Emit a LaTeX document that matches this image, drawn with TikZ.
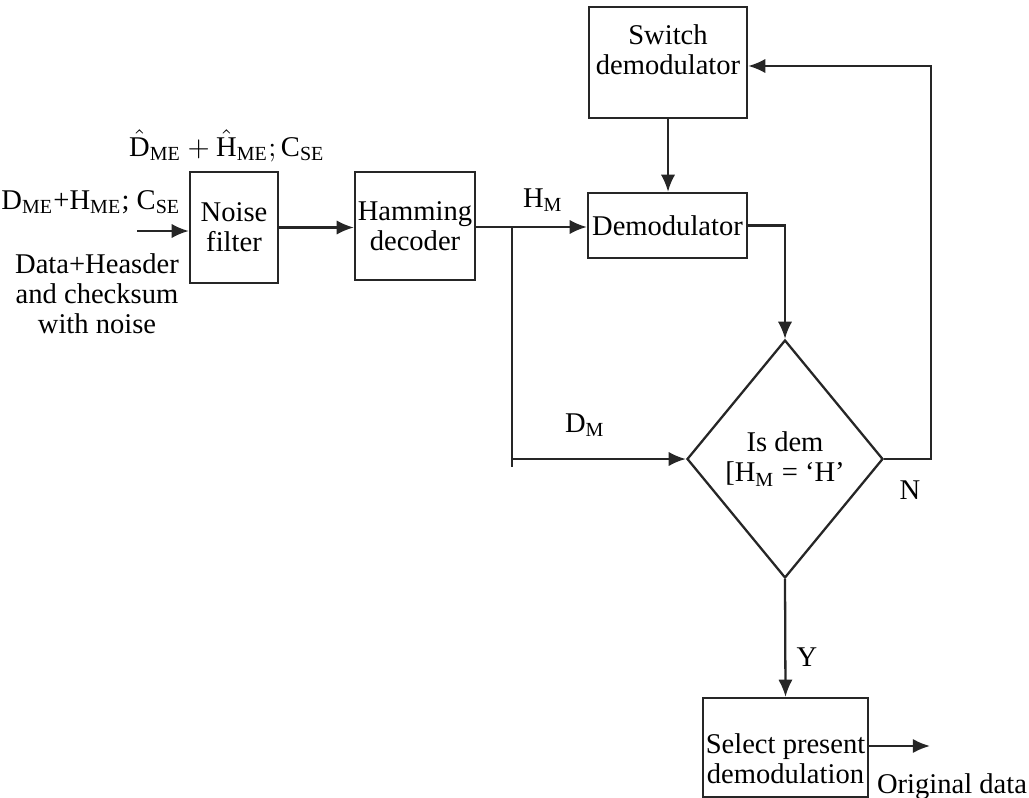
\documentclass[tikz,border=0pt]{standalone}
\usepackage{fontspec}
\setmainfont{Liberation Serif}
\usetikzlibrary{arrows,arrows.meta,positioning,shapes.geometric}
\tikzset{blk/.style={draw=black!85, line width=0.8pt, inner sep=1pt, align=center, font=\fontsize{10}{10.5}\selectfont}}
\tikzset{lbl/.style={inner sep=0pt, align=center, font=\fontsize{10}{10.5}\selectfont}}
\newcommand{\lowidx}[1]{\textsubscript{#1}}

\begin{document}
\begin{tikzpicture}[x=0.35pt, y=-0.35pt]
        \useasboundingbox (0,0) rectangle (1029,798);

        \node[blk, minimum width=30.8pt, minimum height=38.85pt] (noise) at (234,227.5) {Noise\\filter};
        \node[blk, minimum width=42pt, minimum height=37.8pt] (ham) at (415,226) {Hamming\\decoder};
        \node[blk, minimum width=55.65pt, minimum height=22.75pt] (demod) at (667.5,225.5) {Demodulator};
        \node[blk, minimum width=55.3pt, minimum height=38.85pt] (switch) at (668,62.5) {Switch\\demodulator\rule[-9pt]{0pt}{0pt}};
        \node[blk, diamond, minimum width=68.6pt, minimum height=83.3pt] (dec) at (785,459) {Is dem\\{[}H\lowidx{M} = `H'};
        \node[blk, minimum width=57.75pt, minimum height=34.65pt] (sel) at (785.5,747.5) {\rule{0pt}{15pt}Select present\\demodulation};

        % free ends and the branch point
        \coordinate (inp) at (137,231);
        \coordinate (br) at (512,227);
        \coordinate (brend) at (512,467);
        \coordinate (fb) at (931,66);
        \coordinate (out) at (930,746);

        \node[lbl] (hatlbl) at (227,146) {$\hat{\mathrm{D}}_{\mathrm{ME}} + \hat{\mathrm{H}}_{\mathrm{ME}}; \mathrm{C}_{\mathrm{SE}}$};
        \node[lbl] (inlbl) at (91,202) {D\lowidx{ME}+H\lowidx{ME}; C\lowidx{SE}};
        \node[lbl] (datalbl) at (97,294) {Data+Heasder\\and checksum\\with noise};
        \node[lbl] (hmlbl) at (543,200) {H\lowidx{M}};
        \node[lbl] (dmlbl) at (585,425) {D\lowidx{M}};
        \node[lbl] (nlbl) at (910,490) {N};
        \node[lbl] (ylbl) at (807,657) {Y};
        \node[lbl] (outlbl) at (952,787) {Original data};

        \begin{scope}[-{Latex[length=6pt,width=5pt]}, line width=0.8pt, draw=black!85]
            \draw (inp) -- (inp -| noise.west);
            \draw (noise.east) -- (noise.east -| ham.west);
            \draw (ham.east |- br) -- (br) -- (br -| demod.west);
            \draw[-] (br) -- (brend);
            \draw (dec.west -| br) -- (dec.west);
            \draw (switch.south) -- (switch.south |- demod.north);
            \draw (demod.east) -| (dec.north);
            \draw (dec.east) -| (fb) -- (fb -| switch.east);
            \draw (dec.south) -- (sel.north);
            \draw (sel.east |- out) -- (out);
        \end{scope}
    \end{tikzpicture}
\end{document}
